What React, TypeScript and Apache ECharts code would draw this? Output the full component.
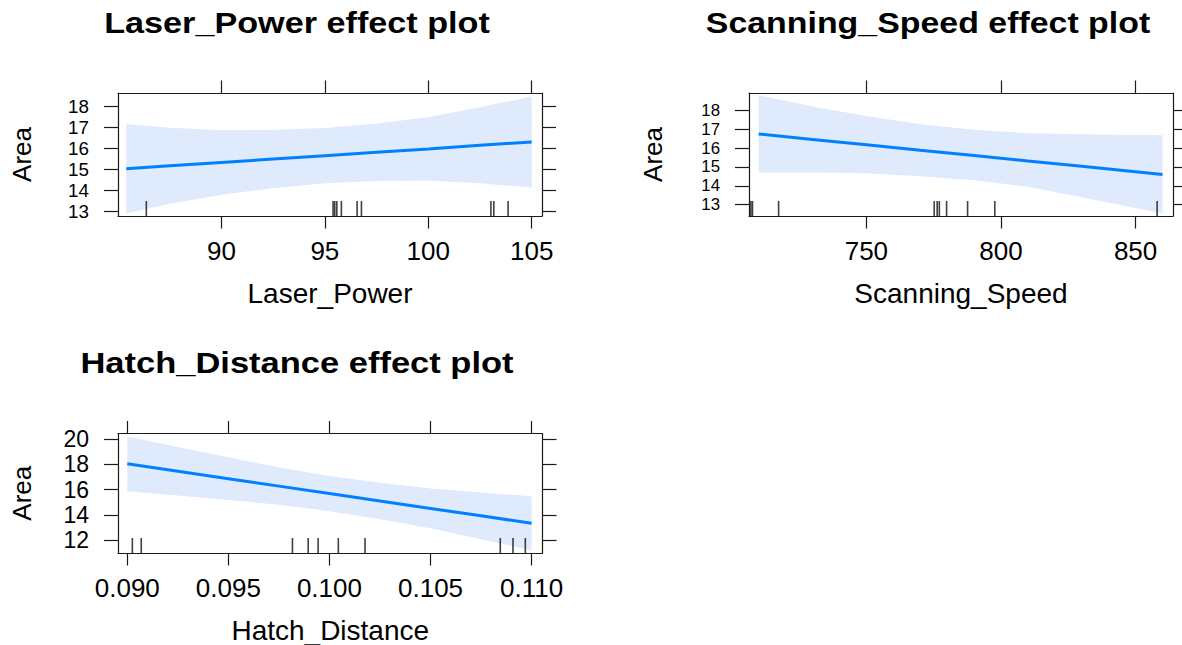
import React, { useEffect, useRef } from "react";
import * as echarts from "echarts";

// ---------- Laser_Power panel ----------
const lpX = [85.4, 87.5, 90, 92.5, 95, 97.5, 100, 102.5, 105];
const lpFit = [15.03, 15.17, 15.33, 15.49, 15.65, 15.81, 15.97, 16.14, 16.3];
const lpUpper = [17.15, 16.97, 16.86, 16.87, 16.96, 17.17, 17.47, 17.94, 18.46];
const lpLower = [12.91, 13.37, 13.8, 14.11, 14.34, 14.45, 14.47, 14.34, 14.14];
const lpRug = [86.37, 95.4, 95.48, 95.58, 95.8, 96.56, 96.77, 103.03, 103.17, 103.86];
const lpXTicks = [90, 95, 100, 105];
const lpYTicks = [13, 14, 15, 16, 17, 18];

// ---------- Scanning_Speed panel ----------
const ssX = [710, 730, 750, 770, 790, 810, 830, 850, 860];
const ssFit = [16.75, 16.46, 16.18, 15.89, 15.61, 15.32, 15.04, 14.75, 14.6];
const ssUpper = [18.8, 18.21, 17.7, 17.27, 16.97, 16.79, 16.74, 16.7, 16.68];
const ssLower = [14.7, 14.71, 14.66, 14.51, 14.3, 13.95, 13.4, 12.82, 12.53];
const ssRug = [707.1, 707.7, 717.4, 775.2, 776.3, 777.1, 779.8, 787.6, 797.7, 858.0];
const ssXTicks = [750, 800, 850];
const ssYTicks = [13, 14, 15, 16, 17, 18];

// ---------- Hatch_Distance panel ----------
const hdX = [0.09, 0.0925, 0.095, 0.0975, 0.1, 0.1025, 0.105, 0.1075, 0.11];
const hdFit = [18.05, 17.46, 16.87, 16.28, 15.69, 15.1, 14.51, 13.92, 13.33];
const hdUpper = [20.23, 19.38, 18.57, 17.75, 17.09, 16.55, 16.09, 15.77, 15.48];
const hdLower = [15.87, 15.54, 15.17, 14.81, 14.29, 13.65, 12.93, 12.07, 11.18];
const hdRug = [0.09025, 0.09069, 0.09817, 0.09895, 0.09944, 0.10044, 0.10176, 0.10845, 0.10908, 0.10969];
const hdXTicks = [0.09, 0.095, 0.1, 0.105, 0.11];
const hdYTicks = [12, 14, 16, 18, 20];

const FONT = '"Liberation Sans", Arial, Helvetica, sans-serif';
const AXIS_COLOR = "#1a1a1a";
const BAND_COLOR = "#DFEAFC";
const LINE_COLOR = "#0080FF";

type Panel = {
  title: string;
  xName: string;
  x: number[];
  fit: number[];
  upper: number[];
  lower: number[];
  rug: number[];
  xTicks: number[];
  yTicks: number[];
  xRange: [number, number];
  yRange: [number, number];
  grid: { left: number; top: number; width: number; height: number };
  titlePos: [number, number];
  titleScale: number;
  yLabelSize: number;
  fmt: (v: number) => string;
};

const panels: Panel[] = [
  {
    title: "Laser_Power effect plot",
    xName: "Laser_Power",
    x: lpX, fit: lpFit, upper: lpUpper, lower: lpLower, rug: lpRug,
    xTicks: lpXTicks, yTicks: lpYTicks,
    xRange: [85.0, 105.5], yRange: [12.79, 18.62],
    grid: { left: 118, top: 93, width: 424, height: 123 },
    titlePos: [297, 23], titleScale: 1.14, yLabelSize: 18.8,
    fmt: (v) => String(v),
  },
  {
    title: "Scanning_Speed effect plot",
    xName: "Scanning_Speed",
    x: ssX, fit: ssFit, upper: ssUpper, lower: ssLower, rug: ssRug,
    xTicks: ssXTicks, yTicks: ssYTicks,
    xRange: [706.4, 863.9], yRange: [12.4, 18.92],
    grid: { left: 749, top: 93, width: 424, height: 123 },
    titlePos: [928, 23], titleScale: 1.13, yLabelSize: 16.8,
    fmt: (v) => String(v),
  },
  {
    title: "Hatch_Distance effect plot",
    xName: "Hatch_Distance",
    x: hdX, fit: hdFit, upper: hdUpper, lower: hdLower, rug: hdRug,
    xTicks: hdXTicks, yTicks: hdYTicks,
    xRange: [0.08954, 0.11054], yRange: [10.97, 20.46],
    grid: { left: 118, top: 433.5, width: 424.5, height: 123 },
    titlePos: [297, 363], titleScale: 1.15, yLabelSize: 23,
    fmt: (v) => v.toFixed(3),
  },
];

function buildOption() {
  const grid: any[] = [];
  const xAxis: any[] = [];
  const yAxis: any[] = [];
  const series: any[] = [];
  const graphic: any[] = [];
  const lineStyle = { color: AXIS_COLOR, width: 1.2 };

  panels.forEach((p, i) => {
    grid.push({ ...p.grid, show: false });
    const xi = xAxis.length;
    xAxis.push({
      type: "value", gridIndex: i, position: "bottom",
      min: p.xRange[0], max: p.xRange[1],
      name: p.xName, nameLocation: "middle", nameGap: 63,
      nameTextStyle: { fontFamily: FONT, fontSize: 28, color: "#000" },
      axisLine: { show: true, onZero: false, lineStyle },
      axisTick: { show: true, inside: false, length: 12.5, customValues: p.xTicks, lineStyle },
      axisLabel: {
        show: true, customValues: p.xTicks, margin: 22, fontFamily: FONT, fontSize: 26,
        color: "#000", formatter: p.fmt, showMinLabel: true, showMaxLabel: true,
      },
      splitLine: { show: false },
    });
    xAxis.push({
      type: "value", gridIndex: i, position: "top",
      min: p.xRange[0], max: p.xRange[1],
      axisLine: { show: true, onZero: false, lineStyle },
      axisTick: { show: true, inside: false, length: 12.5, customValues: p.xTicks, lineStyle },
      axisLabel: { show: false },
      splitLine: { show: false },
    });

    // the left labels are split over two coincident axes (alternate ticks) so that
    // none of the tightly packed labels is dropped
    const evenTicks = p.yTicks.filter((_, k) => k % 2 === 0);
    const oddTicks = p.yTicks.filter((_, k) => k % 2 === 1);
    const yLabel = {
      show: true, margin: 29, fontFamily: FONT, fontSize: p.yLabelSize,
      color: "#000", showMinLabel: true, showMaxLabel: true,
    };
    const yi = yAxis.length;
    yAxis.push({
      type: "value", gridIndex: i, position: "left",
      min: p.yRange[0], max: p.yRange[1],
      name: "Area", nameLocation: "middle", nameRotate: 90, nameGap: 83,
      nameTextStyle: { fontFamily: FONT, fontSize: 26, color: "#000" },
      axisLine: { show: true, onZero: false, lineStyle },
      axisTick: { show: true, inside: false, length: 14, customValues: p.yTicks, lineStyle },
      axisLabel: { ...yLabel, customValues: evenTicks },
      splitLine: { show: false },
    });
    yAxis.push({
      type: "value", gridIndex: i, position: "left",
      min: p.yRange[0], max: p.yRange[1],
      axisLine: { show: false },
      axisTick: { show: false },
      axisLabel: { ...yLabel, customValues: oddTicks },
      splitLine: { show: false },
    });
    yAxis.push({
      type: "value", gridIndex: i, position: "right",
      min: p.yRange[0], max: p.yRange[1],
      axisLine: { show: true, onZero: false, lineStyle },
      axisTick: { show: true, inside: false, length: 14, customValues: p.yTicks, lineStyle },
      axisLabel: { show: false },
      splitLine: { show: false },
    });

    // confidence band as a polygon placed through the axes' scales
    series.push({
      type: "custom", xAxisIndex: xi, yAxisIndex: yi, silent: true, z: 1,
      data: [[p.x[0], p.fit[0]]],
      renderItem: (_params: any, api: any) => {
        const pts: number[][] = [];
        for (let k = 0; k < p.x.length; k++) pts.push(api.coord([p.x[k], p.upper[k]]));
        for (let k = p.x.length - 1; k >= 0; k--) pts.push(api.coord([p.x[k], p.lower[k]]));
        return { type: "polygon", shape: { points: pts }, style: { fill: BAND_COLOR, stroke: null } };
      },
    });
    series.push({
      type: "line", xAxisIndex: xi, yAxisIndex: yi,
      data: p.x.map((x, k) => [x, p.fit[k]]),
      symbol: "none", lineStyle: { color: LINE_COLOR, width: 3 }, z: 3,
    });
    series.push({
      type: "scatter", xAxisIndex: xi, yAxisIndex: yi,
      data: p.rug.map((x) => [x, p.yRange[0]]),
      symbol: "rect", symbolSize: [1.6, 15], symbolOffset: [0, -7.5],
      itemStyle: { color: "#111" }, clip: false, z: 4,
    });

    graphic.push({
      type: "text", x: p.titlePos[0], y: p.titlePos[1], scaleX: p.titleScale,
      style: {
        text: p.title, font: `bold 30px ${FONT}`, fill: "#000",
        align: "center", verticalAlign: "middle",
      },
    });
  });

  return { animation: false, backgroundColor: "#fff", grid, xAxis, yAxis, series, graphic };
}

export default function App() {
  const ref = useRef<HTMLDivElement>(null);
  useEffect(() => {
    document.body.style.margin = "0";
    if (!ref.current) return;
    const chart = echarts.init(ref.current, undefined, { renderer: "svg" });
    chart.setOption(buildOption() as any);
    return () => chart.dispose();
  }, []);
  return <div ref={ref} style={{ width: 1182, height: 645 }} />;
}
